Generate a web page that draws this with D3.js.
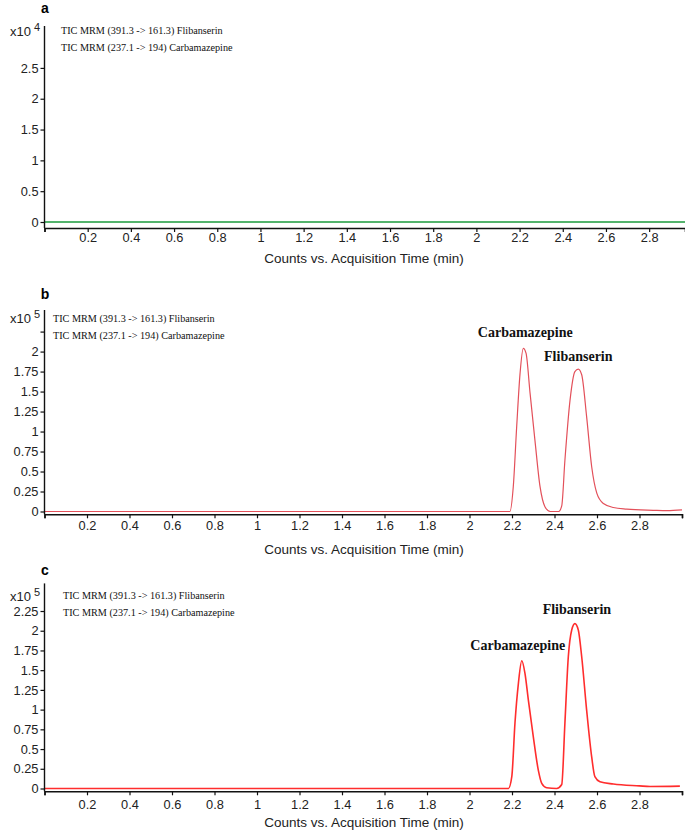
<!DOCTYPE html>
<html>
<head>
<meta charset="utf-8">
<script src="https://cdn.jsdelivr.net/npm/d3@7"></script>
<style>
  body { margin: 0; background: #fff; }
  svg { display: block; }
  .tick text { font-family: "Liberation Sans", Arial, sans-serif; font-size: 12.8px; fill: #222; }
</style>
</head>
<body>
<svg id="chart" width="685" height="833"></svg>
<script>
// legend lines shown in every panel
const legendLines = ["TIC MRM (391.3 -> 161.3) Flibanserin", "TIC MRM (237.1 -> 194) Carbamazepine"]
const xTickValues = [0, 0.2, 0.4, 0.6, 0.8, 1, 1.2, 1.4, 1.6, 1.8, 2, 2.2, 2.4, 2.6, 2.8]

// panel a : blank
const timesA = [0, 2.966]
const countsA = [0, 0]
const yTicksA = [0, 0.5, 1, 1.5, 2, 2.5]

// panel b
const timesB = [0, 2.19, 2.206, 2.222, 2.238, 2.253, 2.266, 2.285, 2.308, 2.332, 2.355, 2.38, 2.42, 2.434, 2.449, 2.473, 2.496, 2.512, 2.528, 2.551, 2.575, 2.599, 2.63, 2.677, 2.74, 2.865, 2.93, 3.0]
const countsB = [0, 0, 0.31, 1.06, 1.73, 2.04, 1.98, 1.48, 0.89, 0.31, 0.06, 0, 0, 0.07, 0.64, 1.39, 1.75, 1.78, 1.71, 1.19, 0.56, 0.23, 0.10, 0.05, 0.03, 0.015, 0.01, 0.02]
const yTicksB = [0, 0.25, 0.5, 0.75, 1, 1.25, 1.5, 1.75, 2, 2.25]

// panel c
const timesC = [0, 2.183, 2.199, 2.214, 2.23, 2.246, 2.261, 2.277, 2.3, 2.324, 2.34, 2.363, 2.41, 2.434, 2.449, 2.465, 2.481, 2.496, 2.512, 2.528, 2.551, 2.575, 2.59, 2.614, 2.677, 2.8, 2.85, 2.99]
const countsC = [0, 0, 0.15, 0.83, 1.33, 1.62, 1.46, 1.12, 0.66, 0.23, 0.065, 0.01, 0, 0.05, 0.83, 1.67, 2.01, 2.09, 2.01, 1.67, 1.0, 0.40, 0.15, 0.086, 0.057, 0.033, 0.025, 0.03]
const yTicksC = [0, 0.25, 0.5, 0.75, 1, 1.25, 1.5, 1.75, 2, 2.25]

const peakNamesB = ["Carbamazepine", "Flibanserin"]
const peakTimesB = [2.253, 2.512]
const peakNamesC = ["Carbamazepine", "Flibanserin"]
const peakTimesC = [2.246, 2.496]

const svg = d3.select('#chart')
const sans = '"Liberation Sans", Arial, sans-serif'
const serif = '"Liberation Serif", "Times New Roman", serif'

const panels = [
  { letter: 'a', times: timesA, counts: countsA, yTicks: yTicksA, hideTop: false, exp: '4',
    xDomain: [0, 2.966], xRange: [44.5, 685], yDomain: [0, 3.18], yRange: [222, 26],
    axisGap: 6, color: '#1b9a3c', lw: 1.6, legendX: 61, legendY: [30, 47],
    letterY: 13, expY: 36, tickY: 242, titleY: 263, peaks: [], endTick: false },
  { letter: 'b', times: timesB, counts: countsB, yTicks: yTicksB, hideTop: true, exp: '5',
    xDomain: [0, 3.0], xRange: [44.5, 682], yDomain: [0, 2.52], yRange: [511.5, 310],
    axisGap: 2.8, color: '#e3505a', lw: 1.2, legendX: 53, legendY: [318, 335],
    letterY: 299, expY: 323, tickY: 530, titleY: 554, endTick: true,
    peaks: [
      { name: peakNamesB[0], t: peakTimesB[0], dx: 2, dy: -11 },
      { name: peakNamesB[1], t: peakTimesB[1], dx: 0, dy: -8 }
    ] },
  { letter: 'c', times: timesC, counts: countsC, yTicks: yTicksC, hideTop: false, exp: '5',
    xDomain: [0, 3.0], xRange: [44.5, 682], yDomain: [0, 2.6], yRange: [788.5, 583.4],
    axisGap: 2.8, color: '#ff2d2d', lw: 1.6, legendX: 63, legendY: [595, 612],
    letterY: 575, expY: 601, tickY: 809, titleY: 827, endTick: true,
    peaks: [
      { name: peakNamesC[0], t: peakTimesC[0], dx: -4, dy: -11 },
      { name: peakNamesC[1], t: peakTimesC[1], dx: 2, dy: -10 }
    ] }
]

panels.forEach(p => {
  const x = d3.scaleLinear().domain(p.xDomain).range(p.xRange)
  const y = d3.scaleLinear().domain(p.yDomain).range(p.yRange)
  const g = svg.append('g')
  const axisY = p.yRange[0] + p.axisGap

  // data line
  const pts = p.times.map((t, i) => [t, p.counts[i]])
  g.append('path')
    .datum(pts)
    .attr('fill', 'none')
    .attr('stroke', p.color)
    .attr('stroke-width', p.lw)
    .attr('stroke-linejoin', 'round')
    .attr('d', d3.line().x(d => x(d[0])).y(d => y(d[1])).curve(d3.curveMonotoneX))

  // x axis
  const xAxis = g.append('g')
    .attr('transform', `translate(0,${axisY})`)
    .call(d3.axisBottom(x).tickValues(p.endTick ? xTickValues.concat([p.xDomain[1]]) : xTickValues)
      .tickSizeOuter(0).tickSize(4).tickPadding(3)
      .tickFormat(d => (d === 0 || d === p.xDomain[1]) ? '' : d3.format('~g')(d)))
  xAxis.select('.domain').attr('stroke', '#111').attr('stroke-width', 1.6)
  xAxis.selectAll('.tick line').attr('stroke', '#111').attr('stroke-width', 1.2)
  xAxis.selectAll('.tick text').attr('y', null).attr('dy', null)
    .attr('transform', `translate(0,${p.tickY - axisY})`)

  // y axis
  const yAxis = g.append('g')
    .attr('transform', `translate(${p.xRange[0]},0)`)
    .call(d3.axisLeft(y).tickValues(p.yTicks).tickSizeOuter(0).tickSize(4).tickPadding(2)
      .tickFormat(d => (p.hideTop && d === d3.max(p.yTicks)) ? '' : d3.format('~g')(d)))
  yAxis.select('.domain').attr('stroke', '#111').attr('stroke-width', 1.4)
    .attr('d', `M0,${p.yRange[1]}V${axisY}`)
  yAxis.selectAll('.tick line').attr('stroke', '#111').attr('stroke-width', 1.2)

  // exponent label
  g.append('text')
    .attr('x', 31).attr('y', p.expY)
    .attr('text-anchor', 'end')
    .attr('font-family', sans).attr('font-size', 13).attr('fill', '#222')
    .text('x10')
  g.append('text')
    .attr('x', 34).attr('y', p.expY - 5)
    .attr('font-family', sans).attr('font-size', 11).attr('fill', '#222')
    .text(p.exp)

  // panel letter
  g.append('text')
    .attr('x', 45).attr('y', p.letterY)
    .attr('text-anchor', 'middle')
    .attr('font-family', sans).attr('font-weight', 'bold').attr('font-size', 14)
    .text(p.letter)

  // legend text
  legendLines.forEach((line, i) => {
    g.append('text')
      .attr('x', p.legendX).attr('y', p.legendY[i])
      .attr('dy', '0.35em')
      .attr('font-family', serif).attr('font-size', 10.2).attr('fill', '#111')
      .text(line)
  })

  // axis title
  g.append('text')
    .attr('x', 364).attr('y', p.titleY)
    .attr('text-anchor', 'middle')
    .attr('font-family', sans).attr('font-size', 13.5).attr('fill', '#222')
    .text('Counts vs. Acquisition Time (min)')

  // peak labels
  p.peaks.forEach(pk => {
    const i = p.times.indexOf(pk.t)
    g.append('text')
      .attr('x', x(pk.t) + pk.dx)
      .attr('y', y(p.counts[i]) + pk.dy)
      .attr('text-anchor', 'middle')
      .attr('font-family', serif).attr('font-weight', 'bold').attr('font-size', 14)
      .attr('fill', '#111')
      .text(pk.name)
  })
})
</script>
</body>
</html>
